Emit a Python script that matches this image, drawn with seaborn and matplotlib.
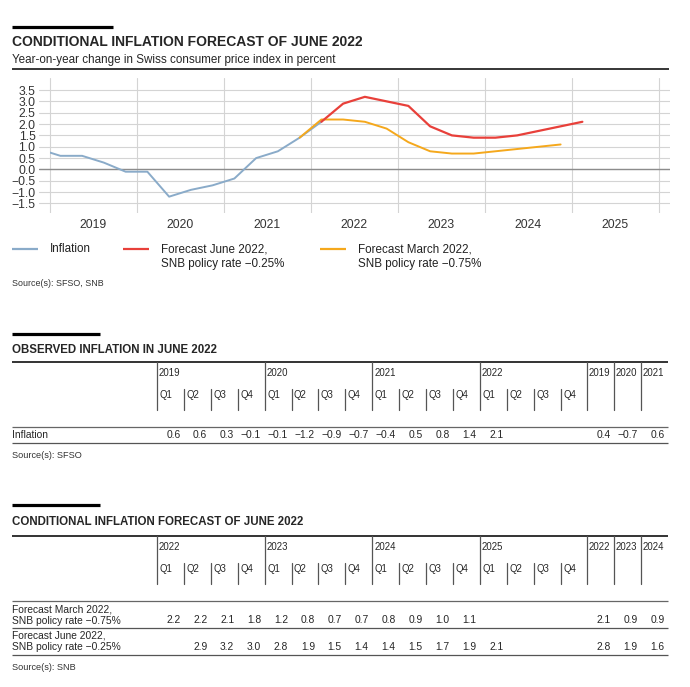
import numpy as np
import matplotlib
matplotlib.use('Agg')
import matplotlib.pyplot as plt
import seaborn as sns
from matplotlib.patches import Rectangle
from matplotlib.ticker import FuncFormatter

# chart data, quarterly y-o-y change in CPI (%)
infl_quarters = ['2018-Q4', '2019-Q1', '2019-Q2', '2019-Q3', '2019-Q4', '2020-Q1', '2020-Q2',
                 '2020-Q3', '2020-Q4', '2021-Q1', '2021-Q2', '2021-Q3', '2021-Q4', '2022-Q1']
inflation = [0.9, 0.6, 0.6, 0.3, -0.1, -0.1, -1.2, -0.9, -0.7, -0.4, 0.5, 0.8, 1.4, 2.1]

march_quarters = ['2021-Q4', '2022-Q1', '2022-Q2', '2022-Q3', '2022-Q4', '2023-Q1', '2023-Q2',
                  '2023-Q3', '2023-Q4', '2024-Q1', '2024-Q2', '2024-Q3', '2024-Q4']
fc_march = [1.4, 2.2, 2.2, 2.1, 1.8, 1.2, 0.8, 0.7, 0.7, 0.8, 0.9, 1.0, 1.1]

june_quarters = ['2022-Q1', '2022-Q2', '2022-Q3', '2022-Q4', '2023-Q1', '2023-Q2', '2023-Q3',
                 '2023-Q4', '2024-Q1', '2024-Q2', '2024-Q3', '2024-Q4', '2025-Q1']
fc_june = [2.1, 2.9, 3.2, 3.0, 2.8, 1.9, 1.5, 1.4, 1.4, 1.5, 1.7, 1.9, 2.1]

chart_years = ['2019', '2020', '2021', '2022', '2023', '2024', '2025']
yticks = [-1.5, -1.0, -0.5, 0.0, 0.5, 1.0, 1.5, 2.0, 2.5, 3.0, 3.5]

# table data
obs_years = ['2019', '2020', '2021', '2022']
obs_row = [0.6, 0.6, 0.3, -0.1, -0.1, -1.2, -0.9, -0.7, -0.4, 0.5, 0.8, 1.4, 2.1, None, None, None]
obs_annual_years = ['2019', '2020', '2021']
obs_annual = [0.4, -0.7, 0.6]

fc_years = ['2022', '2023', '2024', '2025']
march_row = [2.2, 2.2, 2.1, 1.8, 1.2, 0.8, 0.7, 0.7, 0.8, 0.9, 1.0, 1.1, None, None, None, None]
june_row = [None, 2.9, 3.2, 3.0, 2.8, 1.9, 1.5, 1.4, 1.4, 1.5, 1.7, 1.9, 2.1, None, None, None]
fc_annual_years = ['2022', '2023', '2024']
march_annual = [2.1, 0.9, 0.9]
june_annual = [2.8, 1.9, 1.6]

BLUE = '#8aabc9'
RED = '#e8403a'
ORANGE = '#f5a81c'

sns.set_style('white')
plt.rcParams['font.family'] = ['Liberation Sans', 'DejaVu Sans']

W, H = 690, 687
fig = plt.figure(figsize=(W / 100, H / 100), dpi=100)

# overlay in pixel coords for titles, rules and tables
ov = fig.add_axes([0, 0, 1, 1])
ov.set_xlim(0, W)
ov.set_ylim(H, 0)
ov.axis('off')


def to_dec(q):
    y, qq = q.split('-Q')
    return int(y) + (int(qq) - 0.5) / 4


def fmt(v):
    return f'{v:.1f}'.replace('-', '\u2212')


def hline(y, x0, x1, lw=1.0, color='#222'):
    ov.plot([x0, x1], [y, y], color=color, lw=lw, solid_capstyle='butt')


def header(bar_y, bar_x1, title, title_y, title_size):
    hline(bar_y, 12, bar_x1, lw=2.3, color='black')
    ov.text(12, title_y, title, fontsize=title_size, fontweight='bold', va='center', ha='left')


# ---------------- chart ----------------
header(26.5, 113, 'CONDITIONAL INFLATION FORECAST OF JUNE 2022', 41.5, 10.0)
ov.text(12, 59.5, 'Year-on-year change in Swiss consumer price index in percent',
        fontsize=8.4, va='center', ha='left')
hline(68.7, 12, 669, lw=1.1, color='black')

px_year = 87.0
x0_px, ax_l, ax_r, ax_t, ax_b = 49.5, 39, 670, 78, 213
ax = fig.add_axes([ax_l / W, 1 - ax_b / H, (ax_r - ax_l) / W, (ax_b - ax_t) / H])
ax.set_xlim(2019 - (x0_px - ax_l) / px_year, 2019 + (ax_r - x0_px) / px_year)
ax.set_ylim(-1.92, 4.03)

ax.set_xticks(range(2019, 2027))
ax.set_xticklabels([])
ax.set_xticks([int(y) + 0.5 for y in chart_years], labels=chart_years, minor=True)
ax.set_yticks(yticks)
ax.yaxis.set_major_formatter(FuncFormatter(lambda v, p: fmt(v)))
ax.tick_params(which='both', length=0, labelsize=8.8, colors='#333')
ax.tick_params(axis='x', which='minor', pad=4.5)
ax.tick_params(axis='y', pad=2.5)
ax.grid(axis='x', which='major', color='#d4d4d4', lw=0.8)
ax.grid(axis='y', which='major', color='#d4d4d4', lw=0.8)
for s in ax.spines.values():
    s.set_visible(False)
ax.axhline(0, color='#8c8c8c', lw=1.0, zorder=1.5)

sns.lineplot(x=[to_dec(q) for q in infl_quarters], y=inflation, ax=ax, color=BLUE, lw=1.4, zorder=3)
ax.lines[-1].set_clip_path(Rectangle((2019, -5), 10, 10, transform=ax.transData))
sns.lineplot(x=[to_dec(q) for q in march_quarters], y=fc_march, ax=ax, color=ORANGE, lw=1.4, zorder=4)
sns.lineplot(x=[to_dec(q) for q in june_quarters], y=fc_june, ax=ax, color=RED, lw=1.6, zorder=5)
ax.set_xlabel('')
ax.set_ylabel('')

# legend
leg = [(12, BLUE, ['Inflation']),
       (123, RED, ['Forecast June 2022,', 'SNB policy rate \u22120.25%']),
       (320, ORANGE, ['Forecast March 2022,', 'SNB policy rate \u22120.75%'])]
for lx, c, lines in leg:
    ov.plot([lx, lx + 26], [249, 249], color=c, lw=1.6, solid_capstyle='butt')
    for k, t in enumerate(lines):
        ov.text(lx + 38, 249 + 15 * k, t, fontsize=8.4, va='center', ha='left', color='#222')
ov.text(12, 284, 'Source(s): SFSO, SNB', fontsize=6.4, va='center', ha='left', color='#333')

# ---------------- tables ----------------
col0, colw = 157.0, 26.9


def draw_table(y0, years, annual_years, rows, row_h, source):
    hline(y0, 12, 668, lw=1.2, color='#111')
    ncol = 4 * len(years) + len(annual_years)
    for i in range(ncol):
        x = col0 + colw * i
        q = i < 4 * len(years)
        top = y0 if (not q or i % 4 == 0) else y0 + 27
        ov.plot([x, x], [top, y0 + 48], color='#555', lw=0.9)
        if q and i % 4 == 0:
            ov.text(x + 2, y0 + 11, years[i // 4], fontsize=6.9, va='center', ha='left')
        if q:
            ov.text(x + 2.5, y0 + 33.5, f'Q{i % 4 + 1}', fontsize=6.9, va='center', ha='left')
        if not q:
            ov.text(x + 1.5, y0 + 11, annual_years[i - 4 * len(years)], fontsize=6.9,
                    va='center', ha='left')
    y = y0 + 65
    hline(y, 12, 668, lw=0.9, color='#666')
    for labels, vals, ann in rows:
        n = len(labels)
        vy = y + row_h - 8
        for k, t in enumerate(labels):
            ov.text(12, y + 8 + 11.5 * k if n > 1 else vy, t, fontsize=7.4, va='center', ha='left')
        allv = list(vals) + list(ann)
        for i, v in enumerate(allv):
            if v is None:
                continue
            ov.text(col0 + colw * (i + 1) - 3.5, vy, fmt(v), fontsize=7.4, va='center', ha='right')
        y += row_h
        hline(y, 12, 668, lw=0.9, color='#555')
    ov.text(12, y + 13, source, fontsize=6.6, va='center', ha='left', color='#333')


header(334, 100, 'OBSERVED INFLATION IN JUNE 2022', 350, 8.3)
draw_table(362, obs_years, obs_annual_years, [(['Inflation'], obs_row, obs_annual)], 16,
           'Source(s): SFSO')

header(505, 100, 'CONDITIONAL INFLATION FORECAST OF JUNE 2022', 522, 8.3)
draw_table(536, fc_years, fc_annual_years,
           [(['Forecast March 2022,', 'SNB policy rate \u22120.75%'], march_row, march_annual),
            (['Forecast June 2022,', 'SNB policy rate \u22120.25%'], june_row, june_annual)],
           27, 'Source(s): SNB')

fig.savefig('out.png', dpi=100)
